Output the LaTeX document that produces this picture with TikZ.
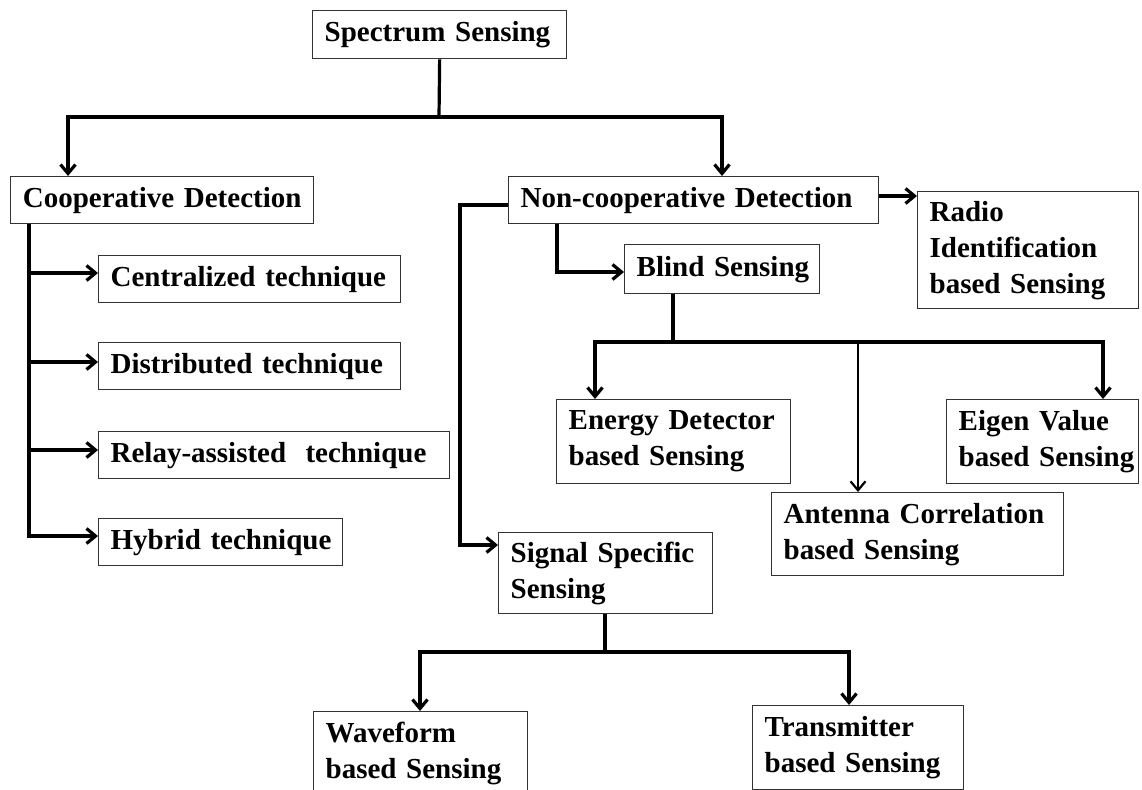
\documentclass[tikz,border=0pt]{standalone}
\usepackage{fontspec}
\setmainfont{Liberation Serif}
\usetikzlibrary{arrows.meta}
\begin{document}
\begin{tikzpicture}[x=1pt,y=-1pt,
  box/.style={draw=black!80, line width=1.3pt, anchor=north west, inner xsep=12pt, inner ysep=0pt,
    align=left, font=\bfseries\fontsize{29}{36}\selectfont,
    execute at begin node={\hyphenpenalty=10000\exhyphenpenalty=10000\hbadness=10000\hfuzz=40pt}},
  conn/.style={line width=3.2pt},
  arr/.style={conn, -{Straight Barb[length=9pt,width=15pt]}},
  arrthin/.style={line width=2.2pt, -{Straight Barb[length=9pt,width=15pt]}}]
\useasboundingbox (0,0) rectangle (1142,789);
\fill[white] (0,0) rectangle (1142,789);
\clip (0,0) rectangle (1142,789);

% boxes
\node[box, minimum width=254pt, minimum height=48pt, text width=230pt] (ss) at (312,10) {\mbox{Spectrum Sensing}};
\node[box, minimum width=303pt, minimum height=47pt, text width=279pt, align=center] (coop) at (10,176) {\mbox{Cooperative Detection}};
\node[box, minimum width=302pt, minimum height=47pt, text width=278pt] (cent) at (98,255) {\mbox{Centralized technique}};
\node[box, minimum width=302pt, minimum height=47pt, text width=278pt] (dist) at (98,342) {\mbox{Distributed technique}};
\node[box, minimum width=351pt, minimum height=47pt, text width=327pt] (relay) at (98,431) {\mbox{Relay-assisted\ \ technique}};
\node[box, minimum width=244pt, minimum height=47pt, text width=220pt] (hyb) at (98,518) {\mbox{Hybrid technique}};
\node[box, minimum width=370pt, minimum height=47pt, text width=346pt] (nc) at (508,176) {\mbox{Non-cooperative Detection}};
\node[box, minimum width=195pt, minimum height=49pt, text width=171pt] (blind) at (624,244) {\mbox{Blind Sensing}};
\node[box, minimum width=221pt, minimum height=117pt, text width=197pt] (radio) at (917,191) {Radio\\\mbox{Identification}\\\mbox{based Sensing}};
\node[box, minimum width=234pt, minimum height=84pt, text width=210pt] (energy) at (556,399) {\mbox{Energy Detector}\\\mbox{based Sensing}};
\node[box, minimum width=192pt, minimum height=84pt, text width=168pt] (eigen) at (946,399) {\mbox{Eigen Value}\\\mbox{based Sensing}};
\node[box, minimum width=292pt, minimum height=83pt, text width=268pt] (ant) at (771,492) {\mbox{Antenna Correlation}\\\mbox{based Sensing}};
\node[box, minimum width=214pt, minimum height=81pt, text width=190pt] (sig) at (498,532) {\mbox{Signal Specific}\\Sensing};
\node[box, minimum width=214pt, minimum height=84pt, text width=190pt] (wave) at (313,711) {Waveform\\\mbox{based Sensing}};
\node[box, minimum width=211pt, minimum height=84pt, text width=187pt] (trans) at (752,705) {Transmitter\\\mbox{based Sensing}};

% junction coordinates
\coordinate (j1) at (439,117);
\coordinate (c1) at (29,273);
\coordinate (c2) at (29,362);
\coordinate (c3) at (29,450);
\coordinate (c4) at (29,536);
\coordinate (n1) at (460,205);
\coordinate (n2) at (460,545);
\coordinate (b1) at (557,272);
\coordinate (r1) at (878,196);
\coordinate (j2) at (673,342);
\coordinate (j3) at (858,342);
\coordinate (j4) at (605,652);

% connectors
\draw[conn] (ss.south) -- (j1);
\draw[arr] (j1) -| ([xshift=58pt]coop.north west);
\draw[arr] (j1) -| ([xshift=214pt]nc.north west);

\draw[arr] ([xshift=19pt]coop.south west) -- (c4) -- (c4 -| hyb.west);
\draw[arr] (c1) -- (c1 -| cent.west);
\draw[arr] (c2) -- (c2 -| dist.west);
\draw[arr] (c3) -- (c3 -| relay.west);

\draw[arr] (n1 -| nc.west) -- (n1) -- (n2) -- (n2 -| sig.west);
\draw[arr] (b1 |- nc.south) -- (b1) -- (b1 -| blind.west);
\draw[arr] (r1 -| nc.east) -- (r1 -| radio.west);

\draw[conn] (j2 |- blind.south) -- (j2);
\draw[arr] (j2) -| ([xshift=39pt]energy.north west);
\draw[arr] (j2) -| ([xshift=157pt]eigen.north west);
\draw[arrthin] (j3) -- (j3 |- ant.north);

\draw[conn] (j4 |- sig.south) -- (j4);
\draw[arr] (j4) -| ([xshift=107pt]wave.north west);
\draw[arr] (j4) -| ([xshift=97pt]trans.north west);
\end{tikzpicture}
\end{document}
